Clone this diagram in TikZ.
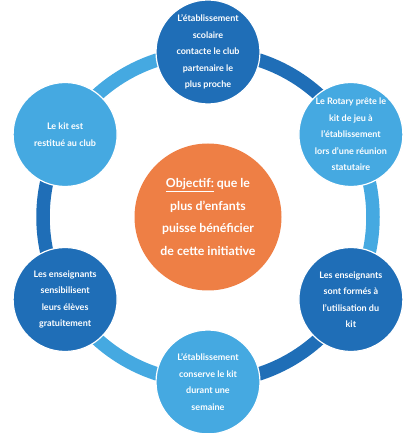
\documentclass[tikz,border=0pt]{standalone}
\usepackage{fontspec}
\setmainfont{Lato}
\usetikzlibrary{calc}
\definecolor{dblue}{HTML}{1F6EB7}
\definecolor{lblue}{HTML}{45A9E1}
\definecolor{orng}{HTML}{EE7F45}
\tikzset{
  stepcirc/.style={circle, minimum size=104pt, inner sep=0pt, draw=white, line width=1.2pt,
    text=white, align=center, font=\fontsize{9}{16.5}\selectfont\bfseries},
  ringarc/.style={line width=13.5pt},
  goalcirc/.style={circle, minimum size=147pt, inner sep=0pt, fill=orng,
    text=white, align=center, font=\fontsize{12.3}{22.5}\selectfont\bfseries}
}
\begin{document}
\begin{tikzpicture}[x=1pt,y=1pt]
\useasboundingbox (0,0) rectangle (410,433);
\coordinate (O) at (208,216);
\def\R{165}
% circle centres
\coordinate (p1) at ($(O)+(90:\R)$);
\coordinate (p2) at ($(O)+(30:\R)$);
\coordinate (p3) at ($(O)+(-30:\R)$);
\coordinate (p4) at ($(O)+(-90:\R)$);
\coordinate (p5) at ($(O)+(-150:\R)$);
\coordinate (p6) at ($(O)+(150:\R)$);
% ring arcs
\draw[ringarc, dblue] (p1) arc[start angle=90, end angle=30, radius=\R];
\draw[ringarc, lblue] (p2) arc[start angle=30, end angle=-30, radius=\R];
\draw[ringarc, dblue] (p3) arc[start angle=-30, end angle=-90, radius=\R];
\draw[ringarc, lblue] (p4) arc[start angle=-90, end angle=-150, radius=\R];
\draw[ringarc, dblue] (p5) arc[start angle=-150, end angle=-210, radius=\R];
\draw[ringarc, lblue] (p6) arc[start angle=150, end angle=90, radius=\R];
% step circles
\node[stepcirc, fill=dblue] (c1) at (p1) {L'établissement\\scolaire\\contacte le club\\partenaire le\\plus proche};
\node[stepcirc, fill=lblue] (c2) at (p2) {Le Rotary prête le\\kit de jeu à\\l'établissement\\lors d'une réunion\\statutaire};
\node[stepcirc, fill=dblue] (c3) at (p3) {Les enseignants\\sont formés à\\l'utilisation du\\kit};
\node[stepcirc, fill=lblue] (c4) at (p4) {L'établissement\\conserve le kit\\durant une\\semaine};
\node[stepcirc, fill=dblue] (c5) at (p5) {Les enseignants\\sensibilisent\\leurs élèves\\gratuitement};
\node[stepcirc, fill=lblue] (c6) at (p6) {Le kit est\\restitué au club};
% goal
\node[goalcirc] (goal) at (O) {\underline{Objectif:} que le\\plus d'enfants\\puisse bénéficier\\de cette initiative};
\end{tikzpicture}
\end{document}
